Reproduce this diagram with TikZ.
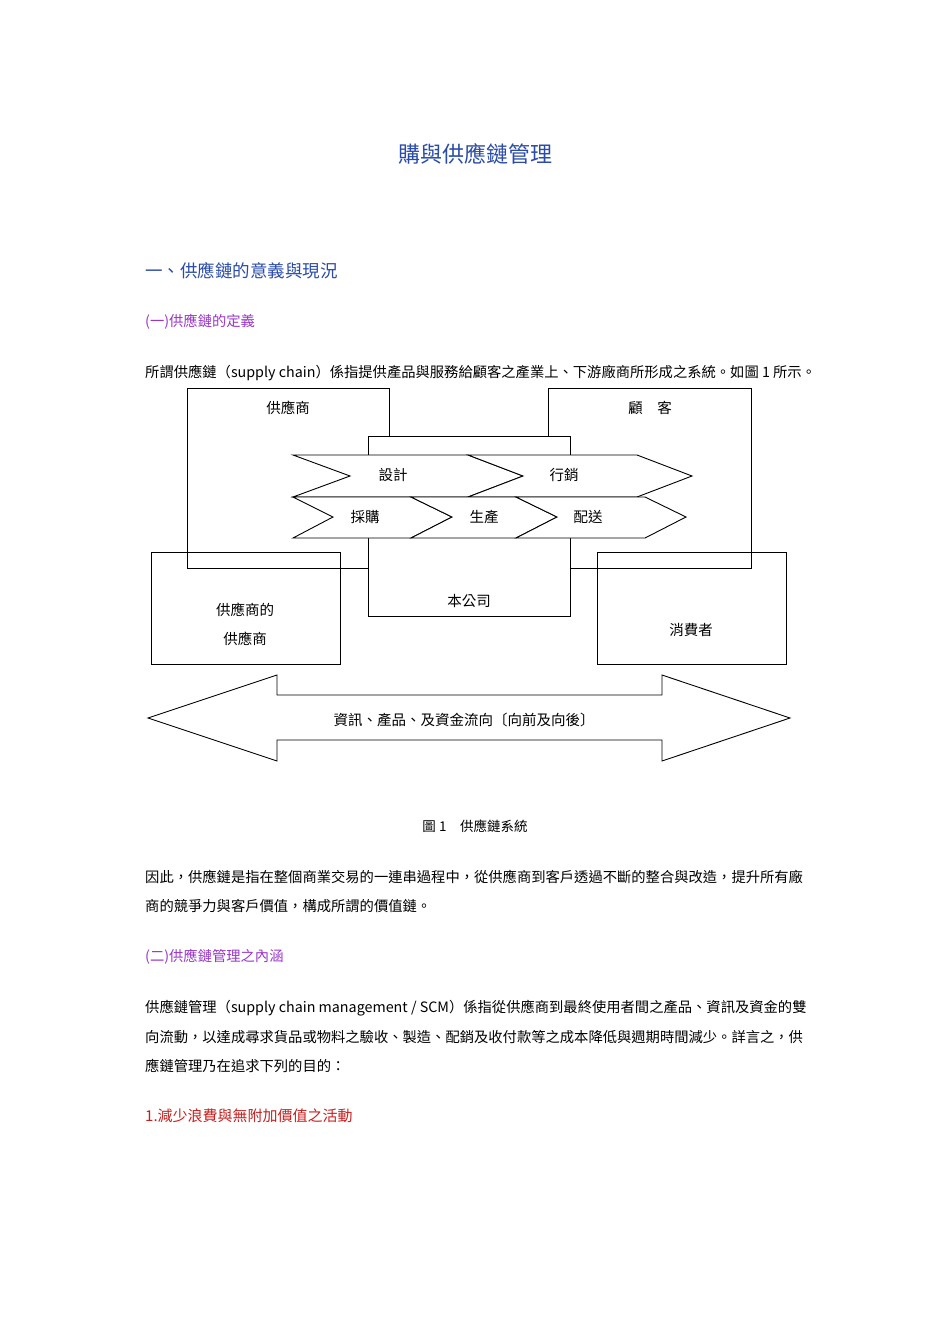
\documentclass[tikz,border=0pt]{standalone}
\usepackage{fontspec}
\setmainfont{Noto Sans CJK TC}
\definecolor{tblue}{HTML}{2A4BA8}
\definecolor{tpurp}{HTML}{9A35C8}
\definecolor{tred}{HTML}{C81E1E}
\begin{document}
\begin{tikzpicture}[x=1pt,y=-1pt,
  body/.style={anchor=west,inner sep=0pt,font=\fontsize{14.3}{16}\selectfont},
  lbl/.style={inner sep=0pt,font=\fontsize{14.5}{16}\selectfont},
  bx/.style={draw,line width=0.9pt},
  chev/.style={draw,fill=white,line width=0.9pt,line join=miter}]
\useasboundingbox (0,0) rectangle (950,1344);
\node[inner sep=0pt,font=\fontsize{22}{24}\selectfont,text=tblue] (title) at (475,154) {購與供應鏈管理};
\node[body,font=\fontsize{17.5}{20}\selectfont,text=tblue] (h1) at (145,271) {一、供應鏈的意義與現況};
\node[body,text=tpurp] (h2) at (145,322) {(一)供應鏈的定義};
\node[body] (p1) at (145,373) {所謂供應鏈（supply chain）係指提供產品與服務給顧客之產業上、下游廠商所形成之系統。如圖 1 所示。};

% outer boxes
\draw[bx] (187,388) rectangle (389,568);
\draw[bx] (548,388) rectangle (751,568);
\draw[bx] (151,552) rectangle (340,664);
\draw[bx] (597,552) rectangle (786,664);
\draw[bx,fill=white] (368,436) rectangle (570,616);
\node[lbl] (sup) at (288,408) {供應商};
\node[lbl] (cus) at (650,408) {顧\hspace{1em}客};
\node[lbl,align=center,font=\fontsize{14.5}{29}\selectfont] (ss) at (245,624) {供應商的\\供應商};
\node[lbl] (con) at (691,630) {消費者};
\node[lbl] (co) at (469,601) {本公司};

% chevrons top row
\draw[chev] (293,455) -- (468,455) -- (523,476) -- (468,497) -- (293,497) -- (350,476) -- cycle;
\draw[chev] (468,455) -- (637,455) -- (692,476) -- (637,497) -- (468,497) -- (523,476) -- cycle;
% bottom row
\draw[chev] (293,497) -- (411,497) -- (452,517) -- (411,538) -- (293,538) -- (333,517) -- cycle;
\draw[chev] (411,497) -- (516,497) -- (557,517) -- (516,538) -- (411,538) -- (452,517) -- cycle;
\draw[chev] (516,497) -- (645,497) -- (686,517) -- (645,538) -- (516,538) -- (557,517) -- cycle;
\node[lbl] (c1) at (393,475) {設計};
\node[lbl] (c2) at (564,475) {行銷};
\node[lbl] (c3) at (365,517) {採購};
\node[lbl] (c4) at (484,517) {生產};
\node[lbl] (c5) at (588,517) {配送};

% double arrow
\draw[bx,line join=miter] (148,718) -- (277,675) -- (277,695) -- (662,695) -- (662,675) -- (790,718) -- (662,761) -- (662,740) -- (277,740) -- (277,761) -- cycle;
\node[lbl] (flow) at (464,720) {資訊、產品、及資金流向〔向前及向後〕};

\node[inner sep=0pt,font=\fontsize{13.5}{15}\selectfont] (cap) at (475,826) {圖 1\hspace{1em}供應鏈系統};
\node[body] (p2) at (145,877) {因此，供應鏈是指在整個商業交易的一連串過程中，從供應商到客戶透過不斷的整合與改造，提升所有廠};
\node[body] (p3) at (145,906) {商的競爭力與客戶價值，構成所謂的價值鏈。};
\node[body,text=tpurp] (h3) at (145,957) {(二)供應鏈管理之內涵};
\node[body] (p4) at (145,1008) {供應鏈管理（supply chain management / SCM）係指從供應商到最終使用者間之產品、資訊及資金的雙};
\node[body] (p5) at (145,1037) {向流動，以達成尋求貨品或物料之驗收、製造、配銷及收付款等之成本降低與週期時間減少。詳言之，供};
\node[body] (p6) at (145,1066) {應鏈管理乃在追求下列的目的：};
\node[body,text=tred,font=\fontsize{15}{17}\selectfont] (h4) at (145,1116) {1.減少浪費與無附加價值之活動};
\end{tikzpicture}
\end{document}
